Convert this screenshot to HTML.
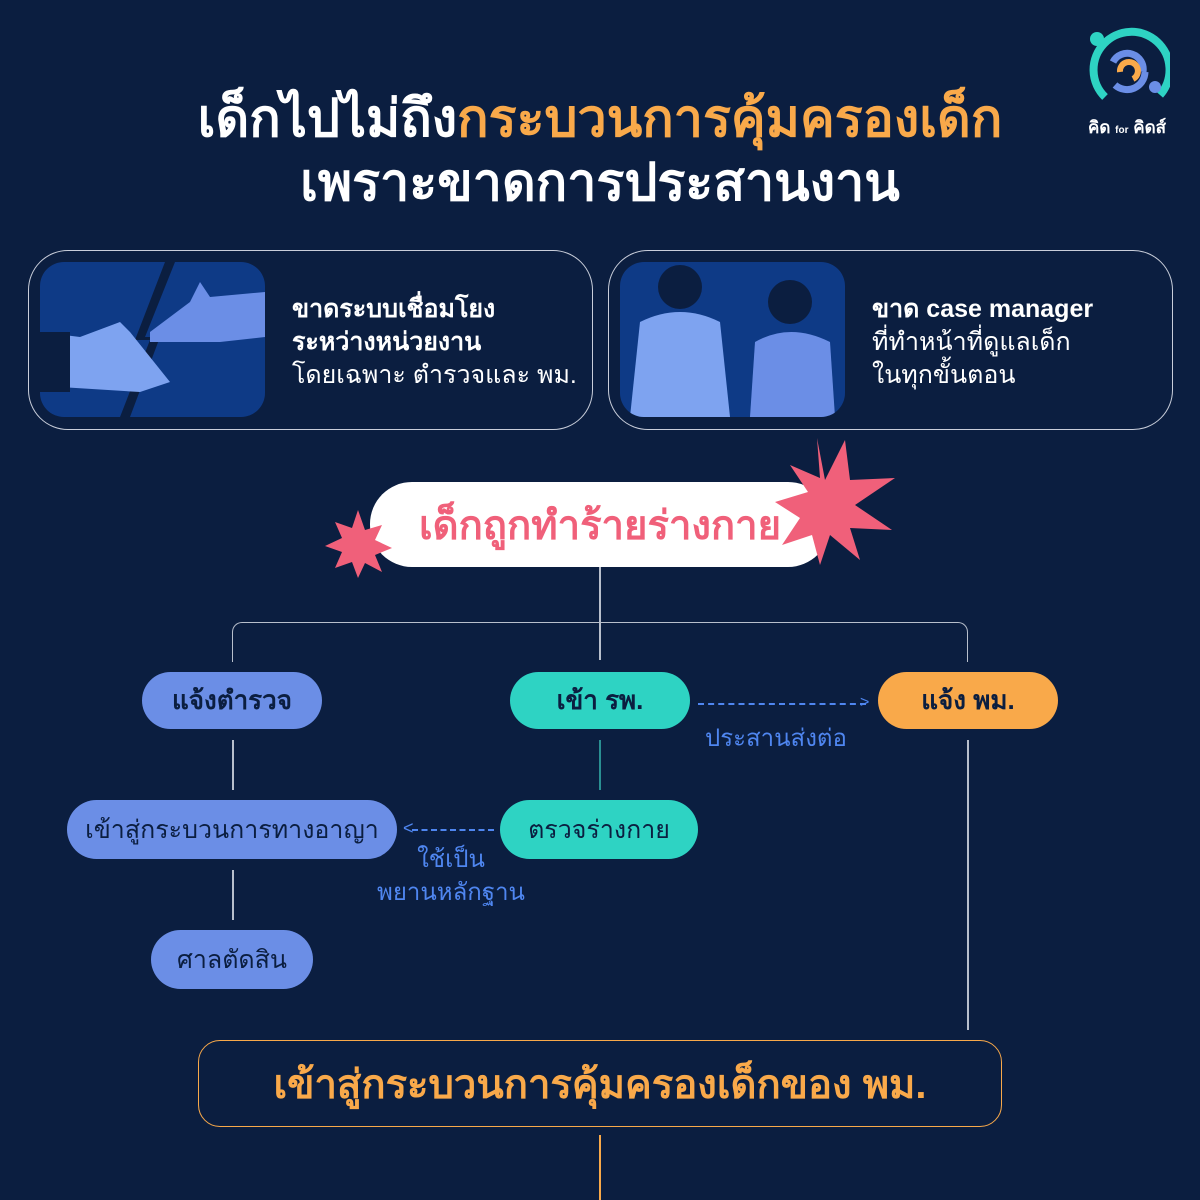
<!DOCTYPE html>
<html><head><meta charset="utf-8"><style>
*{margin:0;padding:0;box-sizing:border-box}
body{width:1200px;height:1200px;background:#0b1e40;position:relative;overflow:hidden;font-family:"Liberation Sans","Noto Sans CJK SC",sans-serif;color:#fff}
.a{position:absolute}
.t{font-weight:bold;font-size:52px;text-align:center;width:1200px;left:0}
.card{border:1.5px solid #c9ceda;border-radius:40px}
.pill{border-radius:30px;display:flex;align-items:center;justify-content:center;color:#0b1e40;font-size:24px}
.ln{background:#b8bfcc}
</style></head><body>
<div class="a t" style="top:76px">เด็กไปไม่ถึง<span style="color:#f9a94a">กระบวนการคุ้มครองเด็ก</span></div>
<div class="a t" style="top:140px">เพราะขาดการประสานงาน</div>
<svg class="a" style="left:1085px;top:27px" width="85" height="85" viewBox="0 0 85 85">
<path d="M20 70 A38 38 0 1 1 75 68" stroke="#2ed3c3" stroke-width="8" fill="none"/>
<circle cx="12" cy="12" r="7" fill="#2ed3c3"/>
<path d="M28 35 A16 16 0 0 1 58 45" stroke="#6b8ee6" stroke-width="7" fill="none"/>
<path d="M60 45 A18 18 0 0 1 30 58" stroke="#6b8ee6" stroke-width="7" fill="none"/>
<path d="M35 45 A9 9 0 1 1 48 52" stroke="#f9a94a" stroke-width="6" fill="none"/>
<circle cx="70" cy="60" r="6" fill="#6b8ee6"/>
</svg>
<div class="a" style="left:1088px;top:114px;font-size:17px;font-weight:bold">คิด <span style="font-size:10px">for</span> คิดส์</div>
<div class="a card" style="left:28px;top:250px;width:565px;height:180px"></div>
<div class="a" style="left:40px;top:262px;width:225px;height:155px;background:#0e3a86;border-radius:24px;overflow:hidden">
<svg width="225" height="155"><polygon points="125,0 135,0 105,75 120,75 90,155 80,155 110,78 95,78" fill="#0b1e40"/>
<path d="M110 70 L150 40 L160 20 L170 35 L225 30 L225 75 L180 80 L110 80Z" fill="#6b8ee6"/>
<path d="M0 70 L40 75 L80 60 L90 70 L130 120 L100 130 L20 125 L0 125Z" fill="#7ea3f0"/>
<rect x="0" y="70" width="30" height="60" fill="#0b1e40"/></svg></div>
<div class="a" style="left:292px;top:293px;font-size:25px;line-height:33px"><b>ขาดระบบเชื่อมโยง<br>ระหว่างหน่วยงาน</b><br>โดยเฉพาะ ตำรวจและ พม.</div>
<div class="a card" style="left:608px;top:250px;width:565px;height:180px"></div>
<div class="a" style="left:620px;top:262px;width:225px;height:155px;background:#0e3a86;border-radius:24px;overflow:hidden">
<svg width="225" height="155"><circle cx="60" cy="25" r="22" fill="#0b1e40"/><path d="M10 155 L20 60 Q60 40 100 60 L110 155Z" fill="#7ea3f0"/>
<circle cx="170" cy="40" r="22" fill="#0b1e40"/><path d="M130 155 L135 80 Q170 60 210 80 L215 155Z" fill="#6b8ee6"/></svg></div>
<div class="a" style="left:872px;top:293px;font-size:25px;line-height:33px"><b>ขาด case manager</b><br>ที่ทำหน้าที่ดูแลเด็ก<br>ในทุกขั้นตอน</div>
<div class="a ln" style="left:599px;top:565px;width:1.5px;height:95px"></div>
<div class="a" style="left:232px;top:622px;width:736px;height:40px;border:1.5px solid #b8bfcc;border-bottom:none;border-radius:10px 10px 0 0"></div>
<div class="a pill" style="left:370px;top:482px;width:460px;height:85px;background:#fff;border-radius:42px;color:#f0607a;font-size:40px;font-weight:bold">เด็กถูกทำร้ายร่างกาย</div>
<svg class="a" style="left:320px;top:430px" width="580" height="160">
<polygon fill="#f0607a" points="497,8 505,50 525,10 530,50 575,48 535,75 572,100 530,98 540,130 510,105 500,135 492,105 462,115 480,88 455,72 488,62 470,35 500,48"/>
<polygon fill="#f0607a" points="38,80 45,100 62,95 55,110 72,118 55,125 62,142 45,133 38,148 32,132 15,138 22,122 5,116 22,108 15,92 32,98"/>
</svg>
<div class="a pill" style="left:142px;top:672px;width:180px;height:57px;background:#6b8ee6;font-weight:bold;font-size:26px">แจ้งตำรวจ</div>
<div class="a pill" style="left:510px;top:672px;width:180px;height:57px;background:#2ed3c3;font-weight:bold;font-size:26px">เข้า รพ.</div>
<div class="a pill" style="left:878px;top:672px;width:180px;height:57px;background:#f9a94a;font-weight:bold;font-size:26px">แจ้ง พม.</div>
<div class="a" style="left:698px;top:703px;width:168px;border-top:2px dashed #4f86f0"></div>
<div class="a" style="left:860px;top:694px;color:#4f86f0;font-size:16px">&gt;</div>
<div class="a" style="left:705px;top:718px;color:#4f86f0;font-size:24px">ประสานส่งต่อ</div>
<div class="a ln" style="left:232px;top:740px;width:1.5px;height:50px"></div>
<div class="a ln" style="left:599px;top:740px;width:1.5px;height:50px;background:#2a8f92"></div>
<div class="a ln" style="left:967px;top:740px;width:1.5px;height:290px"></div>
<div class="a pill" style="left:67px;top:800px;width:330px;height:59px;background:#6b8ee6;font-size:25px">เข้าสู่กระบวนการทางอาญา</div>
<div class="a pill" style="left:500px;top:800px;width:198px;height:59px;background:#2ed3c3;font-size:25px">ตรวจร่างกาย</div>
<div class="a" style="left:412px;top:829px;width:82px;border-top:2px dashed #4f86f0"></div>
<div class="a" style="left:403px;top:818px;color:#4f86f0;font-size:18px">&lt;</div>
<div class="a" style="left:371px;top:843px;color:#4f86f0;font-size:24px;text-align:center;line-height:33px;width:160px">ใช้เป็น<br>พยานหลักฐาน</div>
<div class="a ln" style="left:232px;top:870px;width:1.5px;height:50px"></div>
<div class="a pill" style="left:151px;top:930px;width:162px;height:59px;background:#6b8ee6;font-size:25px">ศาลตัดสิน</div>
<div class="a pill" style="left:198px;top:1040px;width:804px;height:87px;border:1.5px solid #f9a94a;border-radius:22px;color:#f9a94a;font-size:40px;font-weight:bold">เข้าสู่กระบวนการคุ้มครองเด็กของ พม.</div>
<div class="a" style="left:599px;top:1135px;width:1.5px;height:65px;background:#f9a94a"></div>
</body></html>
